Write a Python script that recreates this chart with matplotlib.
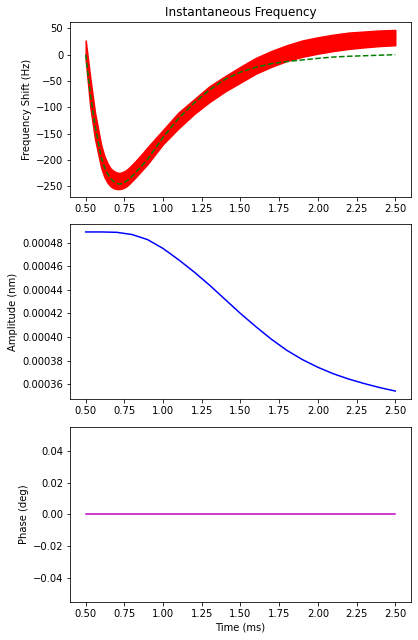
#!/usr/bin/env python3
# -*- coding: utf-8 -*-
"""
Instantaneous frequency / amplitude / phase plot
"""

import matplotlib
matplotlib.use('Agg')
import matplotlib.pyplot as plt

# 频率：红色振荡带的上下包络 + 绿色参考曲线
freq_t = [0.50, 0.53, 0.56, 0.60, 0.62, 0.64, 0.66, 0.68, 0.70, 0.72, 0.74,
          0.76, 0.78, 0.82, 0.86, 0.90, 1.00, 1.10, 1.20, 1.30, 1.40, 1.50,
          1.60, 1.70, 1.80, 1.90, 2.00, 2.10, 2.20, 2.30, 2.40, 2.50]
freq_upper = [27, -45, -110, -172, -192, -206, -216, -221, -224, -225, -223,
              -220, -215, -203, -190, -176, -143, -110, -85, -60, -41, -23,
              -6, 7, 18, 27, 33, 38, 42, 44, 46, 47]
freq_lower = [-10, -100, -160, -215, -232, -243, -250, -254, -255.5, -255.5, -254,
              -251, -246, -234, -221, -208, -170, -140, -113, -90, -70, -53,
              -36, -23, -12, -4, 2, 7, 11, 14, 16.5, 18]
freq_ref = [0, -75, -135, -195, -213, -226, -235, -241, -245, -246, -245,
            -241, -237, -225, -212, -199, -157, -121, -92, -67, -47, -33,
            -24, -17, -13, -10, -7, -4.5, -3, -2, -1, 0]

# 振幅 (nm)
amp_t = [0.5, 0.6, 0.7, 0.8, 0.9, 1.0, 1.1, 1.2, 1.3, 1.4, 1.5,
         1.6, 1.7, 1.8, 1.9, 2.0, 2.1, 2.2, 2.3, 2.4, 2.5]
amp = [0.000489, 0.000489, 0.0004887, 0.0004868, 0.0004825, 0.000475, 0.0004655,
       0.0004552, 0.000444, 0.000432, 0.00042, 0.0004088, 0.0003982, 0.0003888,
       0.0003810, 0.0003745, 0.0003690, 0.0003645, 0.0003607, 0.0003573, 0.0003544]

# 相位 (deg)
phase = [0.0] * len(amp_t)

# 72 dpi 画布，418x640 像素
fig = plt.figure(figsize=(418 / 72, 640 / 72), dpi=72)
ax1 = fig.add_axes([0.168, 0.6922, 0.8146, 0.2734])
ax2 = fig.add_axes([0.168, 0.3766, 0.8146, 0.2734])
ax3 = fig.add_axes([0.168, 0.0594, 0.8146, 0.2734])

# 子图 1: 频率
ax1.fill_between(freq_t, freq_lower, freq_upper, color='r', edgecolor='r', linewidth=1.5)
ax1.plot(freq_t, freq_ref, 'g--')
ax1.set_title('Instantaneous Frequency')
ax1.set_ylabel('Frequency Shift (Hz)')

# 子图 2: 振幅
ax2.plot(amp_t, amp, 'b-')
ax2.set_ylabel('Amplitude (nm)')

# 子图 3: 相位
ax3.plot(amp_t, phase, 'm-')
ax3.set_ylabel('Phase (deg)')
ax3.set_xlabel('Time (ms)')

plt.savefig('out.png', dpi=72)
